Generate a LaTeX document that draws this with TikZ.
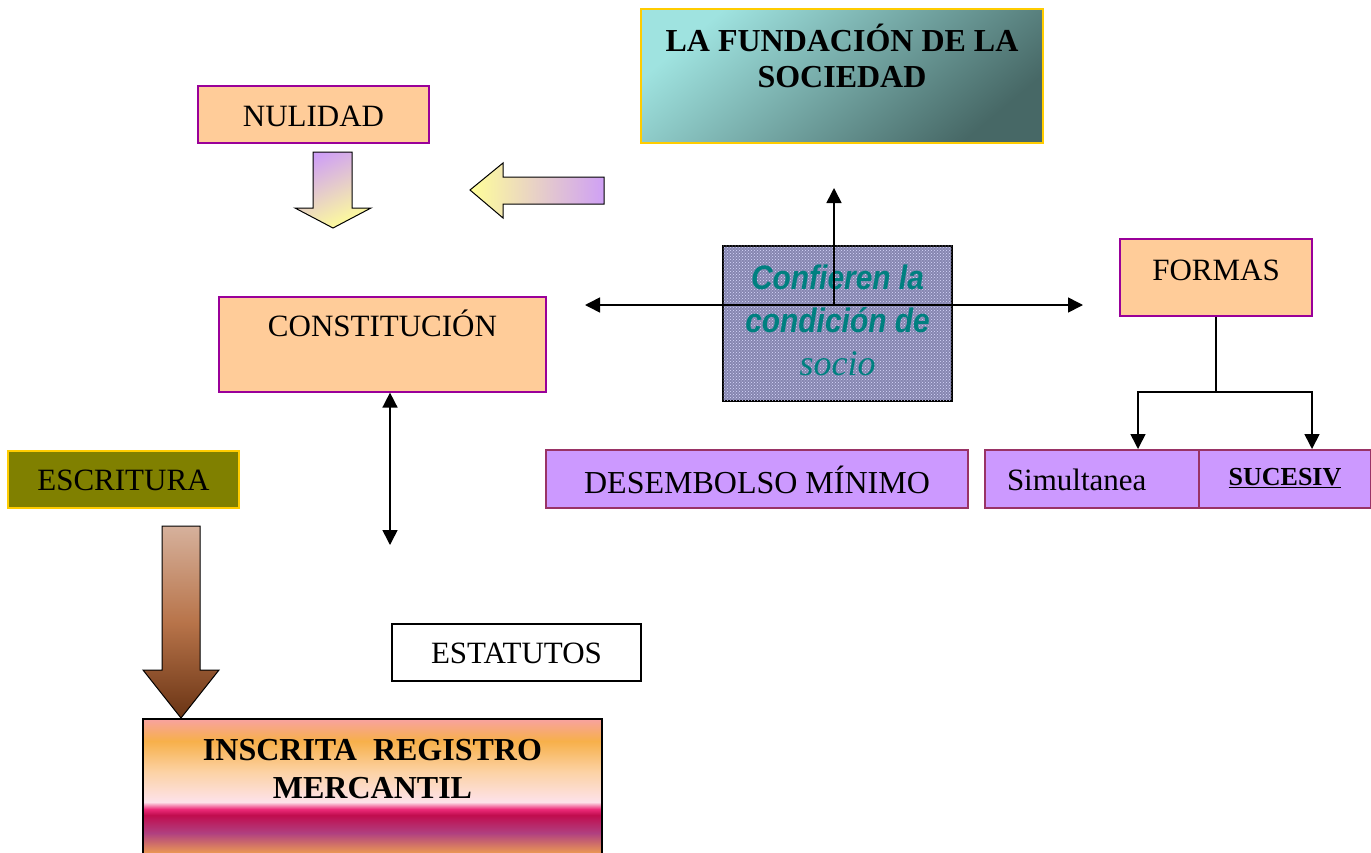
\documentclass[tikz,border=0pt]{standalone}
\usepackage{fontspec}
\setmainfont{Liberation Serif}
\newfontfamily\narrowsans[FakeStretch=0.88]{Liberation Sans}
\usetikzlibrary{arrows.meta, patterns}

\definecolor{peach}{HTML}{FFCC99}
\definecolor{nulpurple}{HTML}{990099}
\definecolor{lilac}{HTML}{CC99FF}
\definecolor{lilacedge}{HTML}{993366}
\definecolor{olivebox}{HTML}{808000}
\definecolor{gold}{HTML}{FFCC00}
\definecolor{tealtext}{HTML}{008080}
\definecolor{ttllight}{HTML}{9FE3E0}
\definecolor{ttlmid}{HTML}{6A9C99}
\definecolor{ttldark}{HTML}{476866}
\definecolor{arrlav}{HTML}{CFA0F5}
\definecolor{arryel}{HTML}{FFFF99}
\definecolor{brtop}{HTML}{D6B19C}
\definecolor{brmid}{HTML}{B8744A}
\definecolor{brbot}{HTML}{6A3414}
\definecolor{chk}{HTML}{8686B0}
% bands of the register box
\definecolor{regpink}{HTML}{F8A2A0}
\definecolor{regorange}{HTML}{F7B04A}
\definecolor{reglight}{HTML}{FCD2A4}
\definecolor{regblush}{HTML}{FDE2EA}
\definecolor{reghot}{HTML}{EC2A78}
\definecolor{regmag}{HTML}{C00C4E}
\definecolor{regplum}{HTML}{B04080}
\definecolor{regbase}{HTML}{F0A050}
\pgfdeclareverticalshading{regshade}{100bp}{color(0bp)=(regbase); color(25bp)=(regbase);
  color(33bp)=(regplum); color(39.6bp)=(regmag); color(41.8bp)=(reghot);
  color(44.4bp)=(regblush); color(55.6bp)=(reglight); color(66.8bp)=(regorange);
  color(75bp)=(regpink); color(100bp)=(regpink)}

\begin{document}
\begin{tikzpicture}[x=1pt, y=-1pt,
  box/.style={rectangle, draw, line width=1.6pt, inner xsep=0pt, inner ysep=0pt,
              anchor=north, font=\fontsize{31}{36}\selectfont},
  peachbox/.style={box, fill=peach, draw=nulpurple},
  lilacbox/.style={box, fill=lilac, draw=lilacedge},
  arr/.style={-{Triangle[length=15pt,width=15pt]}, line width=1.6pt},
  dblarr/.style={{Triangle[length=15pt,width=15pt]}-{Triangle[length=15pt,width=15pt]}, line width=1.6pt},
  blockarr/.style={draw=black, line width=1pt}
]
\useasboundingbox (0,0) rectangle (1371,852);

% boxes
\node[box, draw=gold, line width=2.4pt, top color=ttllight, middle color=ttlmid,
      bottom color=ttldark, shading angle=40, minimum width=402pt,
      text height=78pt, text depth=56pt, align=center,
      font=\bfseries\fontsize{32}{36}\selectfont] (fund) at (842,8)
      {LA FUNDACIÓN DE LA\\SOCIEDAD};
\node[peachbox, minimum width=231pt, text height=40.5pt, text depth=16.5pt] (nulidad) at (313.5,85) {NULIDAD};
\node[peachbox, minimum width=327pt, text height=40pt, text depth=55pt] (constit) at (382.5,296) {CONSTITUCIÓN};
\node[peachbox, minimum width=192pt, text height=42pt, text depth=35pt] (formas) at (1216,238) {FORMAS};
\node[box, fill=chk, postaction={pattern=crosshatch dots, pattern color=white!85!blue},
      minimum width=229pt, text height=130pt, text depth=25pt, align=center,
      text=tealtext, font=\narrowsans\bfseries\itshape\fontsize{34}{43}\selectfont] (socio) at (837.5,245)
      {Confieren la\\condición de\\{\rmfamily\mdseries\fontsize{36}{42}\selectfont socio}};
\node[lilacbox, minimum width=422pt, text height=44pt, text depth=14pt,
      font=\fontsize{32}{36}\selectfont] (desemb) at (757,449) {DESEMBOLSO MÍNIMO};
\node[lilacbox, inner xsep=22pt, text width=170pt, align=left, text height=41pt, text depth=17pt] (simul) at (1092,449) {Simultanea};
\node[lilacbox, minimum width=172pt, text height=36pt, text depth=22pt,
      font=\bfseries\fontsize{26}{30}\selectfont] (sucesiv) at (1285,449) {\underline{SUCESIV}};
\node[box, fill=olivebox, draw=gold, minimum width=231pt, text height=40pt, text depth=17pt] (escrit) at (123.5,450) {ESCRITURA};
\node[box, fill=white, draw=black, minimum width=249pt, text height=40pt, text depth=17pt] (estat) at (516.5,623) {ESTATUTOS};
\node[box, draw=black, shade, shading=regshade, minimum width=459pt,
      text height=80pt, text depth=56pt, align=center,
      font=\bfseries\fontsize{32}{38}\selectfont] (inscr) at (372.5,718)
      {INSCRITA\ \ REGISTRO\\MERCANTIL};

% block arrows
\path[blockarr, top color=arrlav, bottom color=arryel, shading angle=25]
  (313,152) -- (352,152) -- (352,208) -- (371,208) -- (333,228) -- (295,208) -- (313,208) -- cycle;
\path[blockarr, left color=arryel, right color=arrlav]
  (470,190) -- (503,163) -- (503,177) -- (604,177) -- (604,204) -- (503,204) -- (503,218) -- cycle;
\path[blockarr, top color=brtop, bottom color=brbot, middle color=brmid]
  (162,526) -- (200,526) -- (200,670) -- (219,670) -- (181,718) -- (143,670) -- (162,670) -- cycle;

% connectors
\coordinate (cross) at (834,305);
\coordinate (up) at (834,188);
\coordinate (hl) at (585,305);
\coordinate (hr) at (1083,305);
\coordinate (dn) at (390,545);
\coordinate (fork) at (1216,392);
\draw[dblarr] (hl) -- (hr);
\draw[arr] (cross) -- (up);
\draw[dblarr] (constit.south -| dn) -- (dn);
\draw[line width=1.6pt] (formas.south) -- (fork);
\draw[arr] (fork) -| ([xshift=46pt]simul.north);
\draw[arr] (fork) -| ([xshift=27pt]sucesiv.north);
\end{tikzpicture}
\end{document}
